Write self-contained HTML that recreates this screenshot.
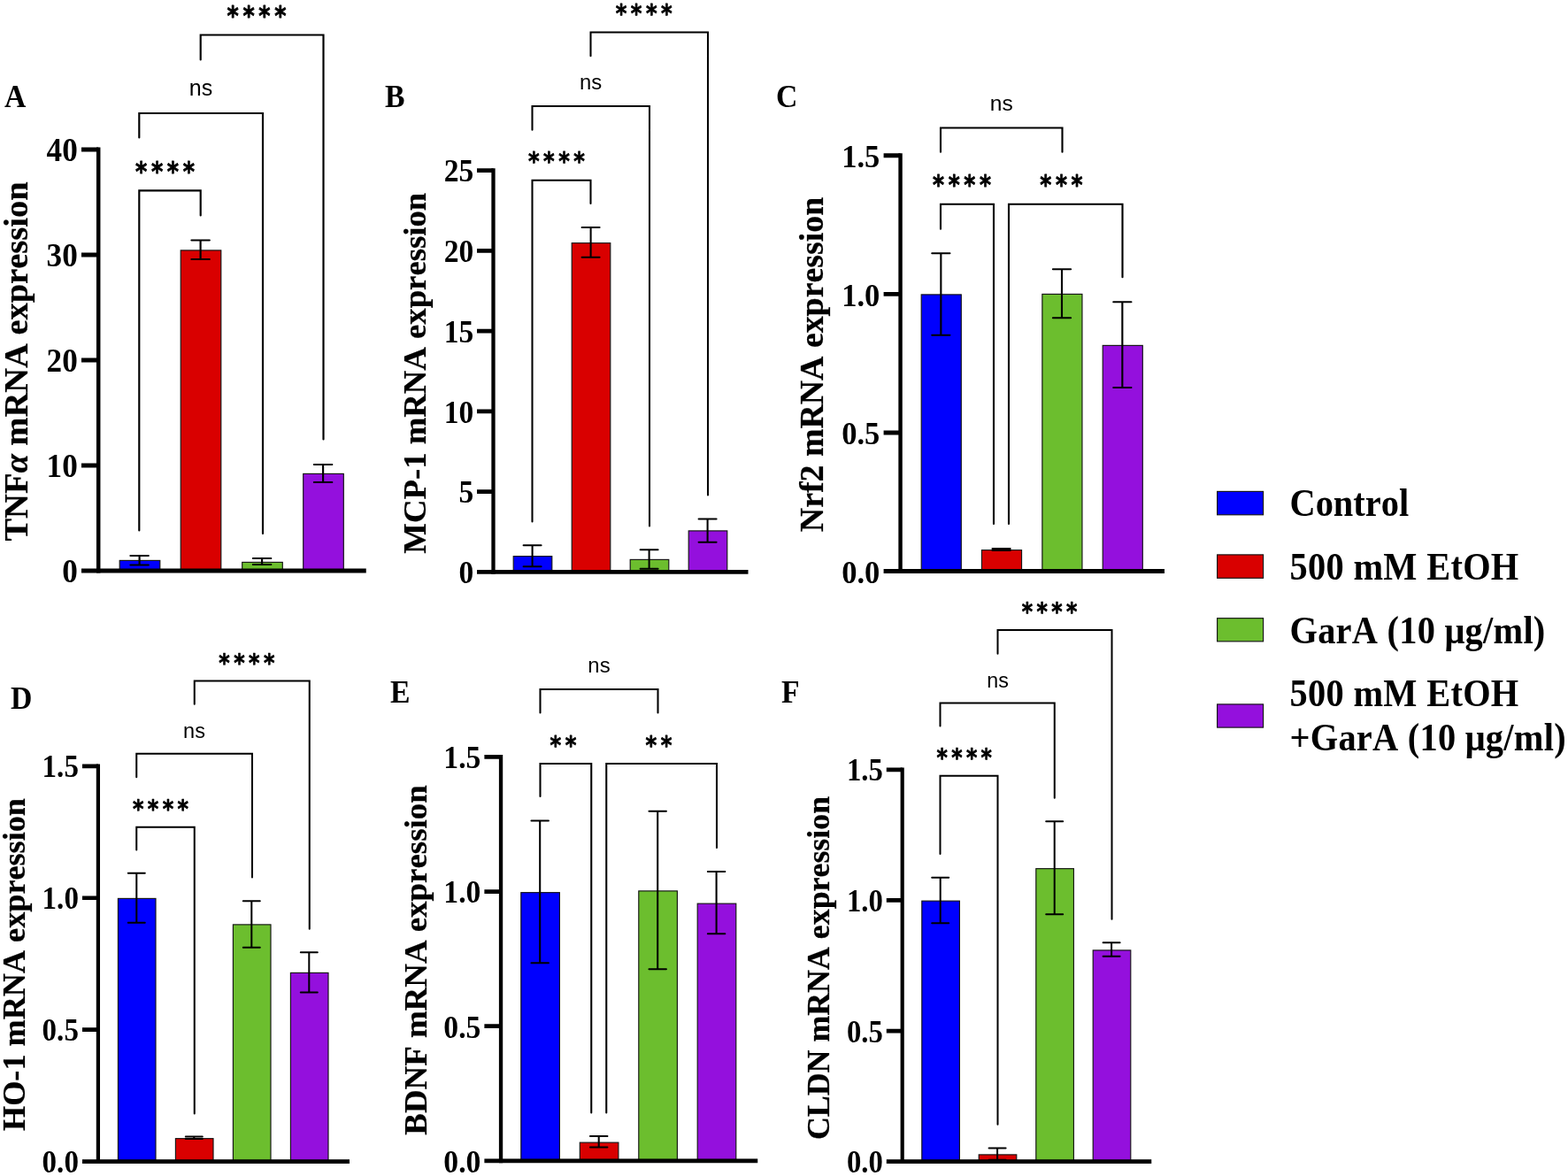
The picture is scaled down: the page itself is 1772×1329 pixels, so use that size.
<!DOCTYPE html>
<html lang="en"><head><meta charset="utf-8"><title>mRNA expression figure</title>
<style>html,body{margin:0;padding:0;background:#fff;overflow:hidden;}svg{display:block;}.s{font-family:'Liberation Serif', serif;font-weight:bold;fill:#000;font-kerning:none;}.n{font-family:'Liberation Sans', sans-serif;fill:#000;}.a{font-family:'DejaVu Sans', sans-serif;font-weight:bold;fill:#000;stroke:#000;stroke-linejoin:round;}.l{stroke:#000;fill:none;stroke-linecap:butt;stroke-linejoin:miter;}.r{stroke-linecap:round;}.b{stroke:#141414;stroke-width:1.15;}</style></head><body>
<svg width="1772" height="1329" viewBox="0 0 1772 1329">
<rect x="0" y="0" width="1772" height="1329" fill="#ffffff"/>
<g id="panel-A">
<rect class="b" x="135.2" y="633.4" width="45.6" height="11.55" fill="#0000fe"/>
<rect class="b" x="204.2" y="282.9" width="45.6" height="362.05" fill="#d90000"/>
<rect class="b" x="273.7" y="635.4" width="45.6" height="9.55" fill="#6cbe2e"/>
<rect class="b" x="342.7" y="535.4" width="45.6" height="109.55" fill="#9410dd"/>
<path class="l r" stroke-width="2.15" d="M147.4 628H167.8M157.6 628V638.5M147.4 638.5H167.8"/>
<path class="l r" stroke-width="2.15" d="M216.4 271.5H236.8M226.6 271.5V293M216.4 293H236.8"/>
<path class="l r" stroke-width="2.15" d="M285.9 631H306.3M296.1 631V638M285.9 638H306.3"/>
<path class="l r" stroke-width="2.15" d="M354.9 525H375.3M365.1 525V545M354.9 545H375.3"/>
<path class="l" stroke-width="4.5" d="M111.2 166.5V647.45"/>
<path class="l" stroke-width="5" d="M92 644.95H413.75"/>
<path class="l" stroke-width="5" d="M92 525.96H111.2M92 406.98H111.2M92 287.99H111.2M92 169H111.2"/>
<text class="s" transform="translate(87.7 658.35) scale(0.940 1)" font-size="37.4" text-anchor="end">0</text>
<text class="s" transform="translate(87.7 539.36) scale(0.940 1)" font-size="37.4" text-anchor="end">10</text>
<text class="s" transform="translate(87.7 420.38) scale(0.940 1)" font-size="37.4" text-anchor="end">20</text>
<text class="s" transform="translate(87.7 301.39) scale(0.940 1)" font-size="37.4" text-anchor="end">30</text>
<text class="s" transform="translate(87.7 182.4) scale(0.940 1)" font-size="37.4" text-anchor="end">40</text>
<text class="s" transform="translate(31.4 408.5) rotate(-90) scale(1.016 1)" font-size="37.9" text-anchor="middle" stroke="#000" stroke-width="0.25">TNF<tspan font-style="italic">α</tspan> mRNA expression</text>
<text class="s" transform="translate(5 121) scale(0.970 1)" font-size="34.8">A</text>
<path class="l r" stroke-width="2.15" d="M157.3 599.5V215.3H226.7V243.5"/>
<text class="a" transform="translate(152.96 203.65) scale(0.830 1)" font-size="30.5" letter-spacing="5.68" stroke-width="0.8">****</text>
<path class="l r" stroke-width="2.15" d="M157.3 155.5V128H297V603"/>
<text class="n" x="227" y="108" font-size="25" text-anchor="middle">ns</text>
<path class="l r" stroke-width="2.15" d="M226.7 67.5V39.5H365.5V496.5"/>
<text class="a" transform="translate(256.46 27.85) scale(0.830 1)" font-size="30.5" letter-spacing="5.68" stroke-width="0.8">****</text>
</g>
<g id="panel-B">
<rect class="b" x="580.2" y="628.65" width="43.6" height="17.65" fill="#0000fe"/>
<rect class="b" x="646.2" y="274.65" width="43.6" height="371.65" fill="#d90000"/>
<rect class="b" x="712.2" y="632.4" width="43.6" height="13.9" fill="#6cbe2e"/>
<rect class="b" x="778.2" y="599.9" width="43.6" height="46.4" fill="#9410dd"/>
<path class="l r" stroke-width="2.05" d="M591.61 616.25H611.59M601.6 616.25V640.25M591.61 640.25H611.59"/>
<path class="l r" stroke-width="2.05" d="M657.61 257H677.59M667.6 257V290.75M657.61 290.75H677.59"/>
<path class="l r" stroke-width="2.05" d="M723.61 621.25H743.59M733.6 621.25V642.75M723.61 642.75H743.59"/>
<path class="l r" stroke-width="2.05" d="M789.61 586.5H809.59M799.6 586.5V612.75M789.61 612.75H809.59"/>
<path class="l" stroke-width="4.29" d="M557.5 190.17V648.68"/>
<path class="l" stroke-width="4.77" d="M539 646.3H845.5"/>
<path class="l" stroke-width="4.77" d="M539 555.55H557.5M539 464.8H557.5M539 374.05H557.5M539 283.3H557.5M539 192.55H557.5"/>
<text class="s" transform="translate(535.15 659.08) scale(0.940 1)" font-size="35.68" text-anchor="end">0</text>
<text class="s" transform="translate(535.15 568.33) scale(0.940 1)" font-size="35.68" text-anchor="end">5</text>
<text class="s" transform="translate(535.15 477.58) scale(0.940 1)" font-size="35.68" text-anchor="end">10</text>
<text class="s" transform="translate(535.15 386.83) scale(0.940 1)" font-size="35.68" text-anchor="end">15</text>
<text class="s" transform="translate(535.15 296.08) scale(0.940 1)" font-size="35.68" text-anchor="end">20</text>
<text class="s" transform="translate(535.15 205.33) scale(0.940 1)" font-size="35.68" text-anchor="end">25</text>
<text class="s" transform="translate(481 421.7) rotate(-90) scale(1.016 1)" font-size="36.16" text-anchor="middle" stroke="#000" stroke-width="0.25">MCP-1 mRNA expression</text>
<text class="s" transform="translate(435 120.75) scale(0.970 1)" font-size="34.8">B</text>
<path class="l r" stroke-width="2.05" d="M601.5 589.5V203.75H667.5V230"/>
<text class="a" transform="translate(597 192.34) scale(0.830 1)" font-size="29.1" letter-spacing="5.41" stroke-width="0.76">****</text>
<path class="l r" stroke-width="2.05" d="M601.5 146.75V120H734V594.5"/>
<text class="n" x="667.5" y="101.11" font-size="23.85" text-anchor="middle">ns</text>
<path class="l r" stroke-width="2.05" d="M667.5 63.25V36.5H800V559.5"/>
<text class="a" transform="translate(695.75 25.09) scale(0.830 1)" font-size="29.1" letter-spacing="5.41" stroke-width="0.76">****</text>
</g>
<g id="panel-C">
<rect class="b" x="1041.2" y="332.9" width="45.1" height="312.6" fill="#0000fe"/>
<rect class="b" x="1109.45" y="621.65" width="45.1" height="23.85" fill="#d90000"/>
<rect class="b" x="1177.85" y="332.4" width="45.1" height="313.1" fill="#6cbe2e"/>
<rect class="b" x="1246.2" y="390.4" width="45.1" height="255.1" fill="#9410dd"/>
<path class="l r" stroke-width="2.11" d="M1053.26 286.25H1073.44M1063.35 286.25V378.75M1053.26 378.75H1073.44"/>
<path class="l r" stroke-width="2.11" d="M1121.51 620H1141.69M1131.6 620V622M1121.51 622H1141.69"/>
<path class="l r" stroke-width="2.11" d="M1189.91 304.25H1210.09M1200 304.25V359.25M1189.91 359.25H1210.09"/>
<path class="l r" stroke-width="2.11" d="M1258.26 341.25H1278.44M1268.35 341.25V438M1258.26 438H1278.44"/>
<path class="l" stroke-width="4.42" d="M1017.55 173.34V647.96"/>
<path class="l" stroke-width="4.92" d="M998.6 645.5H1316"/>
<path class="l" stroke-width="4.92" d="M998.6 488.93H1017.55M998.6 332.37H1017.55M998.6 175.8H1017.55"/>
<text class="s" transform="translate(994.4 658.67) scale(0.940 1)" font-size="36.76" text-anchor="end">0.0</text>
<text class="s" transform="translate(994.4 502.1) scale(0.940 1)" font-size="36.76" text-anchor="end">0.5</text>
<text class="s" transform="translate(994.4 345.54) scale(0.940 1)" font-size="36.76" text-anchor="end">1.0</text>
<text class="s" transform="translate(994.4 188.97) scale(0.940 1)" font-size="36.76" text-anchor="end">1.5</text>
<text class="s" transform="translate(930 412) rotate(-90) scale(1.016 1)" font-size="37.26" text-anchor="middle" stroke="#000" stroke-width="0.25">Nrf2 mRNA expression</text>
<text class="s" transform="translate(877 121) scale(0.970 1)" font-size="34.8">C</text>
<path class="l r" stroke-width="2.11" d="M1063 171.75V144.5H1200.5V171.75"/>
<text class="n" x="1131.75" y="125.09" font-size="24.57" text-anchor="middle">ns</text>
<path class="l r" stroke-width="2.11" d="M1063 258.75V230.75H1123V592"/>
<text class="a" transform="translate(1054.03 219) scale(0.830 1)" font-size="29.98" letter-spacing="5.58" stroke-width="0.79">****</text>
<path class="l r" stroke-width="2.11" d="M1140 592V230.75H1268.5V313.25"/>
<text class="a" transform="translate(1175.35 219) scale(0.830 1)" font-size="29.98" letter-spacing="5.58" stroke-width="0.79">***</text>
</g>
<g id="panel-D">
<rect class="b" x="133.4" y="1015.4" width="42.6" height="297.2" fill="#0000fe"/>
<rect class="b" x="198.4" y="1286.65" width="42.6" height="25.95" fill="#d90000"/>
<rect class="b" x="263.4" y="1044.9" width="42.6" height="267.7" fill="#6cbe2e"/>
<rect class="b" x="328.4" y="1099.4" width="42.6" height="213.2" fill="#9410dd"/>
<path class="l r" stroke-width="2.02" d="M144.8 986.75H163.8M154.3 986.75V1042.75M144.8 1042.75H163.8"/>
<path class="l r" stroke-width="2.02" d="M209.8 1284.5H228.8M219.3 1284.5V1287M209.8 1287H228.8"/>
<path class="l r" stroke-width="2.02" d="M274.8 1018.25H293.8M284.3 1018.25V1070.75M274.8 1070.75H293.8"/>
<path class="l r" stroke-width="2.02" d="M339.8 1076.25H358.8M349.3 1076.25V1121.5M339.8 1121.5H358.8"/>
<path class="l" stroke-width="4.23" d="M110.9 863.45V1314.95"/>
<path class="l" stroke-width="4.7" d="M93 1312.6H395"/>
<path class="l" stroke-width="4.7" d="M93 1163.67H110.9M93 1014.73H110.9M93 865.8H110.9"/>
<text class="s" transform="translate(88.9 1325.2) scale(0.940 1)" font-size="35.16" text-anchor="end">0.0</text>
<text class="s" transform="translate(88.9 1176.27) scale(0.940 1)" font-size="35.16" text-anchor="end">0.5</text>
<text class="s" transform="translate(88.9 1027.33) scale(0.940 1)" font-size="35.16" text-anchor="end">1.0</text>
<text class="s" transform="translate(88.9 878.4) scale(0.940 1)" font-size="35.16" text-anchor="end">1.5</text>
<text class="s" transform="translate(27.6 1090) rotate(-90) scale(1.016 1)" font-size="35.63" text-anchor="middle" stroke="#000" stroke-width="0.25">HO-1 mRNA expression</text>
<text class="s" transform="translate(12 800.5) scale(0.970 1)" font-size="34.8">D</text>
<path class="l r" stroke-width="2.02" d="M154.25 960.5V934.8H219.75V1258.5"/>
<text class="a" transform="translate(149.97 923.85) scale(0.830 1)" font-size="28.67" letter-spacing="5.33" stroke-width="0.75">****</text>
<path class="l r" stroke-width="2.02" d="M154.25 878.2V851.8H285V991.5"/>
<text class="n" x="219.5" y="833.9" font-size="23.5" text-anchor="middle">ns</text>
<path class="l r" stroke-width="2.02" d="M219.75 795.8V769.6H349.75V1049.8"/>
<text class="a" transform="translate(247.37 758.65) scale(0.830 1)" font-size="28.67" letter-spacing="5.33" stroke-width="0.75">****</text>
</g>
<g id="panel-E">
<rect class="b" x="588.8" y="1008.65" width="43.6" height="303.2" fill="#0000fe"/>
<rect class="b" x="655.3" y="1291.15" width="43.6" height="20.7" fill="#d90000"/>
<rect class="b" x="721.8" y="1006.9" width="43.6" height="304.95" fill="#6cbe2e"/>
<rect class="b" x="788.2" y="1021.15" width="43.6" height="290.7" fill="#9410dd"/>
<path class="l r" stroke-width="2.06" d="M600.47 927.5H619.93M610.2 927.5V1088.25M600.47 1088.25H619.93"/>
<path class="l r" stroke-width="2.06" d="M666.97 1284H686.43M676.7 1284V1296.5M666.97 1296.5H686.43"/>
<path class="l r" stroke-width="2.06" d="M733.47 916.75H752.93M743.2 916.75V1095.25M733.47 1095.25H752.93"/>
<path class="l r" stroke-width="2.06" d="M799.87 985H819.33M809.6 985V1055.25M799.87 1055.25H819.33"/>
<path class="l" stroke-width="4.31" d="M566.05 853.06V1314.24"/>
<path class="l" stroke-width="4.79" d="M547.4 1311.85H856.25"/>
<path class="l" stroke-width="4.79" d="M547.4 1159.72H566.05M547.4 1007.58H566.05M547.4 855.45H566.05"/>
<text class="s" transform="translate(543.4 1324.69) scale(0.940 1)" font-size="35.83" text-anchor="end">0.0</text>
<text class="s" transform="translate(543.4 1172.56) scale(0.940 1)" font-size="35.83" text-anchor="end">0.5</text>
<text class="s" transform="translate(543.4 1020.42) scale(0.940 1)" font-size="35.83" text-anchor="end">1.0</text>
<text class="s" transform="translate(543.4 868.29) scale(0.940 1)" font-size="35.83" text-anchor="end">1.5</text>
<text class="s" transform="translate(481.7 1085) rotate(-90) scale(1.016 1)" font-size="36.31" text-anchor="middle" stroke="#000" stroke-width="0.25">BDNF mRNA expression</text>
<text class="s" transform="translate(441 793.5) scale(0.970 1)" font-size="34.8">E</text>
<path class="l r" stroke-width="2.06" d="M610.5 805.5V779H743.5V805.5"/>
<text class="n" x="677" y="760.47" font-size="23.95" text-anchor="middle">ns</text>
<path class="l r" stroke-width="2.06" d="M610.5 900V863H668.25V1257.5"/>
<text class="a" transform="translate(621.46 851.84) scale(0.830 1)" font-size="29.22" letter-spacing="5.44" stroke-width="0.77">**</text>
<path class="l r" stroke-width="2.06" d="M685.25 1257.5V863H810V958"/>
<text class="a" transform="translate(729.56 851.84) scale(0.830 1)" font-size="29.22" letter-spacing="5.44" stroke-width="0.77">**</text>
</g>
<g id="panel-F">
<rect class="b" x="1041.8" y="1018.15" width="42.6" height="294.55" fill="#0000fe"/>
<rect class="b" x="1106.2" y="1304.9" width="42.6" height="7.8" fill="#d90000"/>
<rect class="b" x="1170.8" y="981.65" width="42.6" height="331.05" fill="#6cbe2e"/>
<rect class="b" x="1235.2" y="1073.9" width="42.6" height="238.8" fill="#9410dd"/>
<path class="l r" stroke-width="2" d="M1053.19 991.75H1072.21M1062.7 991.75V1043.25M1053.19 1043.25H1072.21"/>
<path class="l r" stroke-width="2" d="M1117.59 1297.5H1136.61M1127.1 1297.5V1310.75M1117.59 1310.75H1136.61"/>
<path class="l r" stroke-width="2" d="M1182.19 928.25H1201.21M1191.7 928.25V1033.25M1182.19 1033.25H1201.21"/>
<path class="l r" stroke-width="2" d="M1246.59 1065.25H1265.61M1256.1 1065.25V1080.75M1246.59 1080.75H1265.61"/>
<path class="l" stroke-width="4.19" d="M1019.7 867.47V1315.03"/>
<path class="l" stroke-width="4.66" d="M1001.8 1312.7H1301.25"/>
<path class="l" stroke-width="4.66" d="M1001.8 1165.07H1019.7M1001.8 1017.43H1019.7M1001.8 869.8H1019.7"/>
<text class="s" transform="translate(997.9 1325.18) scale(0.940 1)" font-size="34.82" text-anchor="end">0.0</text>
<text class="s" transform="translate(997.9 1177.55) scale(0.940 1)" font-size="34.82" text-anchor="end">0.5</text>
<text class="s" transform="translate(997.9 1029.91) scale(0.940 1)" font-size="34.82" text-anchor="end">1.0</text>
<text class="s" transform="translate(997.9 882.28) scale(0.940 1)" font-size="34.82" text-anchor="end">1.5</text>
<text class="s" transform="translate(936.7 1094) rotate(-90) scale(1.016 1)" font-size="35.28" text-anchor="middle" stroke="#000" stroke-width="0.25">CLDN mRNA expression</text>
<text class="s" transform="translate(883 793.5) scale(0.970 1)" font-size="34.8">F</text>
<path class="l r" stroke-width="2" d="M1062.5 965V876.75H1127.5V1270.75"/>
<text class="a" transform="translate(1058.52 865.9) scale(0.830 1)" font-size="28.4" letter-spacing="5.28" stroke-width="0.74">****</text>
<path class="l r" stroke-width="2" d="M1062.5 820.5V794.5H1191.75V901.75"/>
<text class="n" x="1127.5" y="776.91" font-size="23.28" text-anchor="middle">ns</text>
<path class="l r" stroke-width="2" d="M1127.5 738.75V712H1256.5V1038.75"/>
<text class="a" transform="translate(1154.87 701.15) scale(0.830 1)" font-size="28.4" letter-spacing="5.28" stroke-width="0.74">****</text>
</g>
<g id="legend">
<rect class="b" x="1375.6" y="555.4" width="52" height="26.4" fill="#0000fe"/>
<rect class="b" x="1375.6" y="626.9" width="52" height="26.4" fill="#d90000"/>
<rect class="b" x="1375.6" y="698.65" width="52" height="26.2" fill="#6cbe2e"/>
<rect class="b" x="1375.6" y="795.9" width="52" height="26.2" fill="#9410dd"/>
<text class="s" transform="translate(1457.5 583.3) scale(0.904 1)" font-size="44.7">Control</text>
<text class="s" transform="translate(1457.5 655) scale(0.904 1)" font-size="44.7" letter-spacing="0.33">500 mM EtOH</text>
<text class="s" transform="translate(1457.5 726.6) scale(0.904 1)" font-size="44.7" letter-spacing="0.27">GarA (10 μg/ml)</text>
<text class="s" transform="translate(1457.5 798.2) scale(0.904 1)" font-size="44.7" letter-spacing="0.33">500 mM EtOH</text>
<text class="s" transform="translate(1457.5 847.9) scale(0.904 1)" font-size="44.7" letter-spacing="0.27">+GarA (10 μg/ml)</text>
</g>
</svg></body></html>
